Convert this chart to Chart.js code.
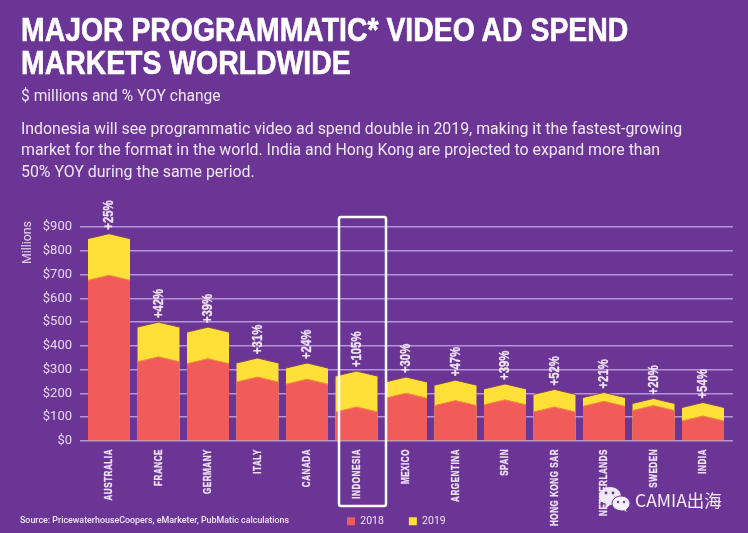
<!DOCTYPE html>
<html>
<head>
<meta charset="utf-8">
<script src="https://cdn.jsdelivr.net/npm/chart.js@4/dist/chart.umd.min.js"></script>
<style>
html, body { margin: 0; padding: 0; background: #6a3594; }
#page { position: relative; width: 748px; height: 533px; overflow: hidden; background: #6a3594; color: #f1e6f8; font-family: Roboto, sans-serif; }
canvas { position: absolute; left: 0; top: 0; }
.txt { position: absolute; white-space: nowrap; }
#head { left: 21px; top: 13px; font: bold 34px/32.500px "Liberation Sans", sans-serif; color: #fff; transform-origin: 0 0; transform: scaleX(0.835); -webkit-text-stroke: 0.6px #fff; }
#sub { left: 21px; top: 87px; font-size: 15.6px; }
#intro { left: 21px; top: 118px; font-size: 15.9px; line-height: 21.3px; }
#source { left: 20px; top: 515px; font-size: 8.9px; font-weight: 500; }
#millions { left: 20px; top: 222px; height: 42px; font-size: 12.3px; line-height: 14px; color: #e6d8f0; writing-mode: vertical-rl; transform: rotate(180deg); }
#mark { left: 635px; top: 487px; font: 17.5px "Noto Sans CJK SC", sans-serif; color: #f4eef8; }
#logo { position: absolute; left: 598px; top: 485px; }
</style>
</head>
<body>
<div id="page">
  <canvas id="c" width="748" height="533"></canvas>
  <div class="txt" id="head">MAJOR PROGRAMMATIC* VIDEO AD SPEND<br>MARKETS WORLDWIDE</div>
  <div class="txt" id="sub">$ millions and % YOY change</div>
  <div class="txt" id="intro">Indonesia will see programmatic video ad spend double in 2019, making it the fastest-growing<br>market for the format in the world. India and Hong Kong are projected to expand more than<br>50% YOY during the same period.</div>
  <div class="txt" id="millions">Millions</div>
  <div class="txt" id="source">Source: PricewaterhouseCoopers, eMarketer, PubMatic calculations</div>
  <svg id="logo" width="36" height="32" viewBox="0 0 36 32">
    <path d="M12 2c6 0 11 4 11 9s-5 9-11 9l-4 3 1-4c-5-1-8-4-8-8 0-5 5-9 11-9z" fill="#efe8f5"/>
    <path d="M23 11c5 0 9 3.400 9 7.500 0 2.500-1.500 4.500-3.500 6l1 3.500-3.500-2.200c-5 1-12-2-12-7.300 0-4.100 4-7.500 9-7.500z" fill="#f7f2fa" stroke="#6a3594"/>
    <circle cx="8" cy="8" r="1.400" fill="#6a3594"/><circle cx="15" cy="8" r="1.400" fill="#6a3594"/>
    <circle cx="20" cy="17" r="1.200" fill="#6a3594"/><circle cx="26" cy="17" r="1.200" fill="#6a3594"/>
  </svg>
  <div class="txt" id="mark">CAMIA出海</div>
</div>
<script>
const categories = ['AUSTRALIA','FRANCE','GERMANY','ITALY','CANADA','INDONESIA','MEXICO','ARGENTINA','SPAIN','HONG KONG SAR','NETHERLANDS','SWEDEN','INDIA'];
const spend2018 = [697,354,346,269,260,143,201,170,173,143,167,149,105];
const spend2019 = [872,500,479,349,328,294,269,256,240,217,204,179,162];
const changeLabels = ['+25%','+42%','+39%','+31%','+24%','+105%','+30%','+47%','+39%','+52%','+21%','+20%','+54%'];
const highlight = 'INDONESIA';

// bars have a small peak on top, shoulders sit a few px under the value
const SHOULDER = 5;
const topEdge = ['#7d4560', '#f28a3c'];

// no condensed font installed, so squeeze the bold face along the text
function upText(ctx, text, x, y, size, squeeze, spacing, alignEnd) {
  ctx.save();
  ctx.translate(x, y);
  ctx.rotate(-Math.PI / 2);
  ctx.scale(squeeze, 1);
  ctx.font = 'bold ' + size + 'px "Liberation Sans", sans-serif';
  ctx.letterSpacing = spacing + 'px';
  ctx.fillStyle = '#f1e6f8';
  ctx.strokeStyle = '#f1e6f8';
  ctx.lineWidth = 0.3;
  ctx.textAlign = alignEnd ? 'right' : 'left';
  ctx.textBaseline = 'middle';
  ctx.fillText(text, 0, 0);
  ctx.strokeText(text, 0, 0);
  ctx.restore();
}

const chevronBars = {
  id: 'chevronBars',
  afterLayout(chart) {
    // legend sits right of centre in the footer
    const lg = chart.legend;
    lg.left = 322; lg.right = 480; lg.top = 491; lg.bottom = 533;
  },
  beforeDatasetDraw(chart, args) {
    const ctx = chart.ctx;
    const fill = chart.data.datasets[args.index].backgroundColor;
    args.meta.data.forEach(bar => {
      const l = bar.x - bar.width / 2, r = bar.x + bar.width / 2;
      ctx.save();
      ctx.fillStyle = fill;
      ctx.beginPath();
      ctx.moveTo(l, bar.base);
      ctx.lineTo(l, bar.y + SHOULDER);
      ctx.lineTo(bar.x, bar.y);
      ctx.lineTo(r, bar.y + SHOULDER);
      ctx.lineTo(r, bar.base);
      ctx.closePath();
      ctx.fill();
      ctx.strokeStyle = topEdge[args.index === 1 ? 0 : 1];
      ctx.lineWidth = 1;
      ctx.beginPath();
      ctx.moveTo(l, bar.y + SHOULDER);
      ctx.lineTo(bar.x, bar.y);
      ctx.lineTo(r, bar.y + SHOULDER);
      ctx.stroke();
      ctx.restore();
    });
    return false;
  },
  afterDatasetsDraw(chart) {
    const ctx = chart.ctx;
    const x = chart.scales.x, y = chart.scales.y;
    // white frame around the highlighted market goes over the bars
    const px = x.getPixelForValue(categories.indexOf(highlight));
    ctx.save();
    ctx.strokeStyle = '#fff';
    ctx.lineWidth = 2.5;
    ctx.beginPath();
    ctx.roundRect(px - 17.5, y.getPixelForValue(900) - 10, 47, 289, 2);
    ctx.stroke();
    ctx.restore();

    chart.getDatasetMeta(1).data.forEach((bar, i) => {
      upText(ctx, changeLabels[i], bar.x, bar.y - 4, 14.5, 0.78, 0, false);
    });
    // category labels hang from the axis, reading upwards
    categories.forEach((name, i) => {
      upText(ctx, name, x.getPixelForValue(i), x.top + 8, 11.5, 0.7, 0.8, true);
    });
  }
};

new Chart(document.getElementById('c'), {
  type: 'bar',
  data: {
    datasets: [
      { label: '2018', data: spend2018.map((v, i) => ({ x: i, y: v })), backgroundColor: '#f15c5a', barThickness: 42, grouped: false },
      { label: '2019', data: spend2019.map((v, i) => ({ x: i, y: v })), backgroundColor: '#ffdf38', barThickness: 42, grouped: false }
    ]
  },
  options: {
    responsive: false,
    animation: false,
    layout: { padding: { top: 227, right: 15, left: 0, bottom: 0 } },
    plugins: {
      tooltip: { enabled: false },
      legend: {
        position: 'bottom',
        align: 'start',
        maxHeight: 1,
        labels: { color: '#efe3f6', boxWidth: 8, boxHeight: 8, padding: 25, font: { family: 'Roboto', size: 10.5 } }
      }
    },
    scales: {
      x: {
        type: 'linear',
        offset: false,
        bounds: 'data',
        min: -0.586,
        max: 12.606,
        afterFit(s) { s.height = 91; },
        grid: { display: false },
        border: { display: false },
        ticks: { display: false, stepSize: 1, includeBounds: false, autoSkip: false }
      },
      y: {
        min: 0,
        max: 900,
        afterFit(s) { s.width = 80; },
        border: { display: false },
        grid: { color: '#b993d8', lineWidth: 1.5, drawTicks: false },
        ticks: {
          stepSize: 100,
          padding: 8,
          color: '#e6d8f0',
          font: { family: 'Roboto', size: 13 },
          callback: v => '$' + v
        }
      }
    }
  },
  plugins: [chevronBars]
});
</script>
</body>
</html>
